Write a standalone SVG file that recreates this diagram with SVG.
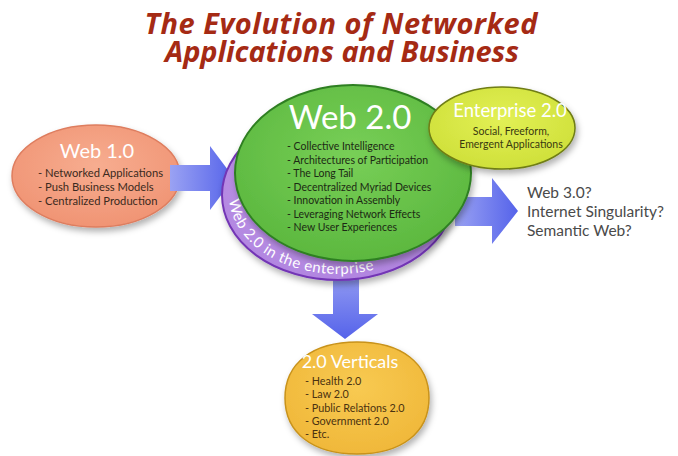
<svg xmlns="http://www.w3.org/2000/svg" width="678" height="456" viewBox="0 0 678 456">
<defs>
<style>
.title{font-family:"Open Sans",Lato,"Liberation Sans",sans-serif;font-weight:bold;font-style:italic;font-size:29px;fill:#a52a14;text-anchor:middle}
.hd{font-family:Lato,"Open Sans","Liberation Sans",sans-serif;fill:#ffffff;text-anchor:middle}
.arc{font-family:Lato,"Open Sans","Liberation Sans",sans-serif;fill:#ffffff;font-size:15px}
.it{font-family:Lato,"Open Sans","Liberation Sans",sans-serif;font-size:10.5px}
.q{font-family:Lato,"Open Sans","Liberation Sans",sans-serif;font-size:15.5px;fill:#4a4a4a}
.arrow{fill:url(#ag)}
</style>
<linearGradient id="ag" x1="0" y1="0" x2="1" y2="0">
<stop offset="0" stop-color="#9aa2f3"/>
<stop offset="1" stop-color="#5563ea"/>
</linearGradient>
<linearGradient id="agd" x1="0" y1="0" x2="0" y2="1">
<stop offset="0" stop-color="#8f98f2"/>
<stop offset="1" stop-color="#5563ea"/>
</linearGradient>
<radialGradient id="g1" cx="0.5" cy="0.4" r="0.6"><stop offset="0" stop-color="#f7ad90"/><stop offset="1" stop-color="#f09474"/></radialGradient>
<radialGradient id="g2" cx="0.5" cy="0.4" r="0.6"><stop offset="0" stop-color="#78cf57"/><stop offset="1" stop-color="#5cb83f"/></radialGradient>
<radialGradient id="gp" cx="0.5" cy="0.4" r="0.6"><stop offset="0" stop-color="#c9a3ec"/><stop offset="1" stop-color="#b185e0"/></radialGradient>
<radialGradient id="ge" cx="0.5" cy="0.4" r="0.6"><stop offset="0" stop-color="#e2f055"/><stop offset="1" stop-color="#cfe03a"/></radialGradient>
<radialGradient id="gv" cx="0.5" cy="0.4" r="0.6"><stop offset="0" stop-color="#f8ca52"/><stop offset="1" stop-color="#f0b83a"/></radialGradient>
<filter id="sh" x="-20%" y="-20%" width="140%" height="150%">
<feDropShadow dx="2" dy="4" stdDeviation="3" flood-color="#000" flood-opacity="0.3"/>
</filter>
<path id="arcp" d="M 229 195 A 109 79 0 0 0 338 274 A 109 79 0 0 0 432.4 234.5"/>
</defs>
<rect width="678" height="456" fill="#ffffff"/>

<g id="title">
<text class="title" x="341" y="34" textLength="393" lengthAdjust="spacing">The Evolution of Networked</text>
<text class="title" x="342" y="62" textLength="354" lengthAdjust="spacing">Applications and Business</text>
</g>

<g id="web1">
<ellipse cx="96" cy="176" rx="84" ry="51" fill="url(#g1)" stroke="#de7d5e" stroke-width="1.5" filter="url(#sh)"/>
<text class="hd" x="97" y="158" font-size="20">Web 1.0</text>
<g class="it" fill="#3b2a20" style="font-size:11.2px">
<text x="38" y="177">- Networked Applications</text>
<text x="38" y="191">- Push Business Models</text>
<text x="38" y="205">- Centralized Production</text>
</g>
</g>

<g id="connectors">
<path class="arrow" d="M170 165 H210 V146 L234 178 L210 210 V191 H170 Z"/>
<path class="arrow" d="M455 197 H492 V178 L518 211 L492 244 V226 H455 Z"/>
<path d="M333 278 V314 H312 L345 339 L378 314 H359 V278 Z" fill="url(#agd)"/>
</g>

<g id="enterprise-web2">
<ellipse cx="338" cy="195" rx="116" ry="85" fill="url(#gp)" stroke="#7336b5" stroke-width="2" filter="url(#sh)"/>
<text class="arc"><textPath href="#arcp" startOffset="5" textLength="180" lengthAdjust="spacing">Web 2.0 in the enterprise</textPath></text>
</g>

<g id="web2">
<ellipse cx="353" cy="173" rx="118" ry="88" fill="url(#g2)" stroke="#2f7f22" stroke-width="2" filter="url(#sh)"/>
<text class="hd" x="350" y="129" font-size="33">Web 2.0</text>
<g class="it" fill="#1c2a14">
<text x="287" y="150">- Collective Intelligence</text>
<text x="287" y="163.5">- Architectures of Participation</text>
<text x="287" y="177">- The Long Tail</text>
<text x="287" y="190.5">- Decentralized Myriad Devices</text>
<text x="287" y="204">- Innovation in Assembly</text>
<text x="287" y="217.5">- Leveraging Network Effects</text>
<text x="287" y="231">- New User Experiences</text>
</g>
</g>

<g id="ent2">
<ellipse cx="502" cy="128" rx="73" ry="41" fill="url(#ge)" stroke="#6f7d14" stroke-width="1.5" filter="url(#sh)"/>
<text class="hd" x="510" y="117" font-size="18.5">Enterprise 2.0</text>
<text class="it" x="511" y="135" text-anchor="middle" fill="#3a3a10">Social, Freeform,</text>
<text class="it" x="511" y="148" text-anchor="middle" fill="#3a3a10">Emergent Applications</text>
</g>

<g id="web3">
<text class="q" x="527" y="198">Web 3.0?</text>
<text class="q" x="527" y="217">Internet Singularity?</text>
<text class="q" x="527" y="236">Semantic Web?</text>
</g>

<g id="verticals">
<path d="M 285 398 C 285 363.3 312.4 342 357 342 C 401.6 342 429 363.3 429 398 C 429 432.7 401.6 454 357 454 C 312.4 454 285 432.7 285 398 Z" fill="url(#gv)" stroke="#c8921a" stroke-width="1.5" filter="url(#sh)"/>
<text class="hd" x="350" y="368" font-size="18">2.0 Verticals</text>
<g class="it" fill="#4a3210" style="font-size:10.8px">
<text x="305" y="385">- Health 2.0</text>
<text x="305" y="398">- Law 2.0</text>
<text x="305" y="412">- Public Relations 2.0</text>
<text x="305" y="425">- Government 2.0</text>
<text x="305" y="438">- Etc.</text>
</g>
</g>
</svg>
